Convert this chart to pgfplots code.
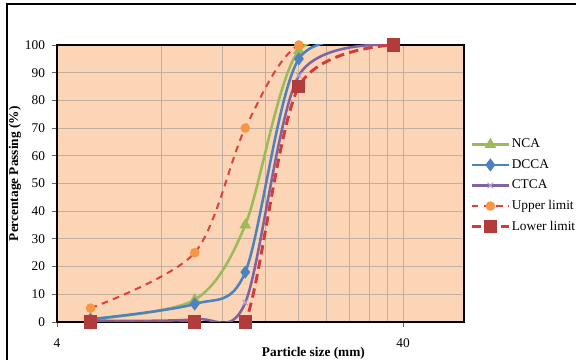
\documentclass[border=0pt]{standalone}
\usepackage{pgfplots}
\pgfplotsset{compat=1.18}
\usepackage{fontspec}
\setmainfont{Liberation Serif}

\definecolor{bgc}{HTML}{FBD5B5}
\definecolor{gridc}{HTML}{C4AE9E}
\definecolor{ncac}{HTML}{9BBB59}
\definecolor{dccac}{HTML}{4F81BD}
\definecolor{ctcac}{HTML}{8064A2}
\definecolor{ctcam}{HTML}{B4A8C4}
\definecolor{upc}{HTML}{E0403C}
\definecolor{upm}{HTML}{F79646}
\definecolor{loc}{HTML}{D63A38}
\definecolor{lom}{HTML}{B13C3B}

\begin{document}
\begin{tikzpicture}
\path[use as bounding box] (0,0) rectangle (432pt,270pt);
\draw[line width=1.5pt] (5.25pt,0) -- (5.25pt,267pt) -- (432pt,267pt);
\begin{axis}[
  at={(42.75pt,28.5pt)}, anchor=south west,
  scale only axis, width=305.25pt, height=207.75pt,
  xmode=log, log basis x=10,
  xmin=4, xmax=60, ymin=0, ymax=100,
  xtick={4,40}, xticklabels={4,40},
  minor xtick={8,12,16,20,24,28,32,36},
  ytick={0,10,...,100},
  grid=both,
  major grid style={gridc, line width=0.7pt},
  minor grid style={gridc, line width=0.7pt},
  axis background/.style={fill=bgc},
  axis line style={black, line width=1.2pt},
  tick pos=left, tick align=outside,
  major tick length=4pt, minor tick length=0pt,
  tick style={black!60, line width=0.6pt},
  /pgf/number format/assume math mode=true,
  ticklabel style={font=\fontsize{10}{12}\selectfont},
  yticklabel style={xshift=-1.5pt},
  xticklabel style={yshift=-5pt},
  xlabel={\textbf{Particle size (mm)}},
  ylabel={\textbf{Percentage Passing (\%)}},
  every axis x label/.style={at={(axis description cs:0.63,-0.112)}, anchor=center, font=\fontsize{10}{12}\selectfont},
  every axis y label/.style={at={(axis description cs:-0.103,0.535)}, rotate=90, anchor=center, font=\fontsize{10}{12}\selectfont},
  clip mode=individual,
  legend style={at={(1.0147,0.666)}, anchor=north west, draw=none, fill=none,
    font=\fontsize{10}{12}\selectfont, row sep=5.2pt, inner sep=0pt,
    nodes={inner sep=1pt}},
  legend cell align=left,
  legend image code/.code={\draw[mark repeat=2,mark phase=2] plot coordinates {(0pt,0pt) (14pt,0pt) (28pt,0pt)};},
  legend entries={NCA,DCCA,CTCA,Upper limit,Lower limit},
]
\addplot[ncac, line width=1.9pt, smooth, mark=triangle*, mark size=3.2pt, mark options={solid, fill=ncac, draw=ncac}]
  coordinates {(5,1) (10,8) (14,35) (20,98) (37.5,100)};
\addplot[dccac, line width=1.9pt, smooth, mark=diamond*, mark size=3.4pt, mark options={solid, fill=dccac, draw=dccac}]
  coordinates {(5,1) (10,6.5) (14,18) (20,95) (37.5,100)};
\addplot[ctcac, line width=1.9pt, smooth, mark=x, mark size=3pt, mark options={solid, draw=ctcam, line width=0.8pt}]
  coordinates {(5,0.5) (10,1) (14,7) (20,89) (37.5,100)};
\addplot[upc, line width=1.5pt, dash pattern=on 5pt off 4pt, smooth, mark=*, mark size=2.8pt, mark options={solid, fill=upm, draw=upm}]
  coordinates {(5,5) (10,25) (14,70) (20,100) (37.5,100)};
\addplot[loc, line width=2.2pt, dash pattern=on 7pt off 4pt, smooth, mark=square*, mark size=3.8pt, mark options={solid, fill=lom, draw=lom}]
  coordinates {(5,0) (10,0) (14,0) (20,85) (37.5,100)};
\end{axis}
\end{tikzpicture}
\end{document}
